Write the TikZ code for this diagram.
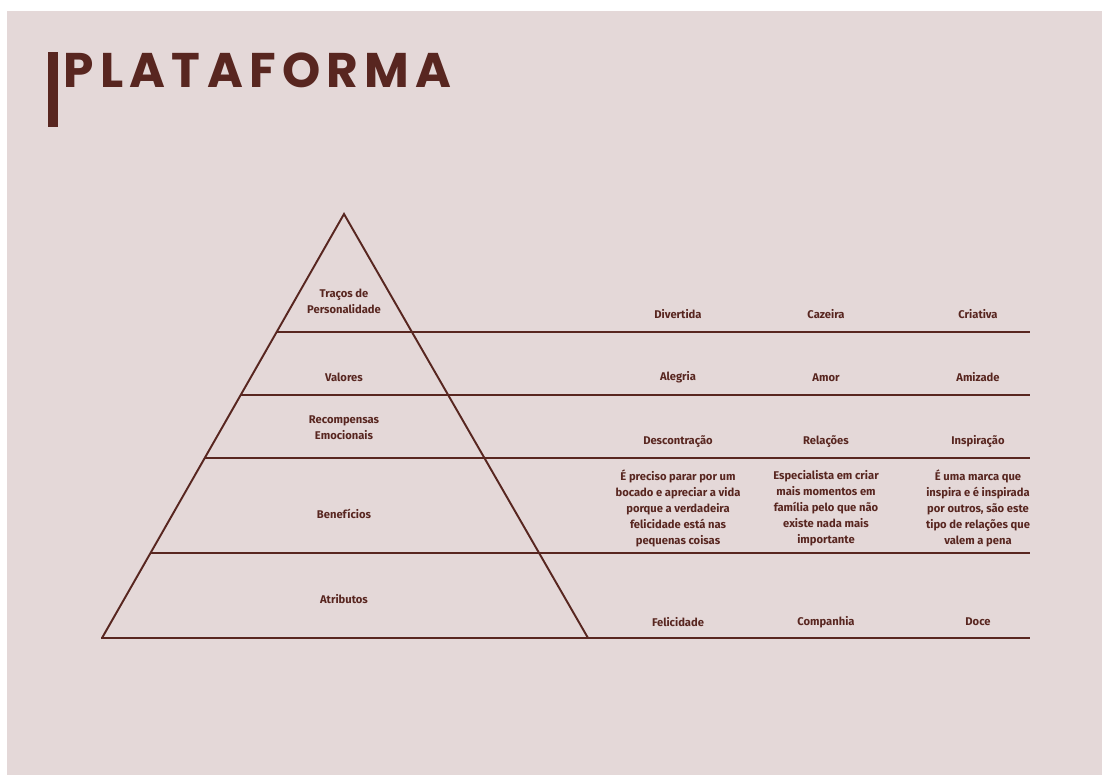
\documentclass[tikz,border=0pt]{standalone}
\usepackage{fontspec}
\setmainfont{Fira Sans}
\newfontfamily\titlefont{Poppins}[LetterSpace=13]
\definecolor{platbrown}{RGB}{88,38,32}
\definecolor{platback}{RGB}{228,216,216}
\tikzset{every picture/.style={line width=0.75pt}}
\tikzset{
  tiertext/.style={font=\bfseries\fontsize{8.4}{12}\selectfont, text=platbrown, align=center, inner sep=0.75pt},
  tierline/.style={draw=platbrown, line width=1.5pt},
  sideline/.style={draw=platbrown, line width=1.45pt}
}

\begin{document}
\begin{tikzpicture}[x=0.75pt,y=0.75pt,yscale=-1,xscale=1]
\useasboundingbox (0,0) rectangle (1102,775);

%Shape: Rectangle [page]
\fill [white] (0,0) rectangle (1102,775);
\fill [platback] (7,11) rectangle (1102,775);
%Shape: Rectangle [title bar]
\fill [platbrown] (48,52) rectangle (58,127);

% Text Node
\draw (63,87) node [anchor=base west][inner sep=0pt]  {\titlefont\bfseries\fontsize{36.5}{36}\selectfont\color{platbrown}PLATAFORMA};

%Shape: Triangle [pyramid]
\draw [sideline, line join=miter] (102,638) -- (344,214) -- (588,638) ;

%Straight Lines [tiers]
\draw [tierline] (276.65,332) -- (1030,332) ;
\draw [tierline] (240.7,395) -- (1030,395) ;
\draw [tierline] (204.7,458) -- (1030,458) ;
\draw [tierline] (150.5,553) -- (1030,553) ;
\draw [tierline] (101,638) -- (1030,638) ;

% Text Node
\draw (344,301) node [tiertext] (tracos) {Traços de\\Personalidade};
% Text Node
\draw (344,377.5) node [tiertext] (valores) {Valores};
% Text Node
\draw (344,427.5) node [tiertext] (recompensas) {Recompensas\\Emocionais};
% Text Node
\draw (344,514) node [tiertext] (beneficios) {Benefícios};
% Text Node
\draw (344,599.5) node [tiertext] (atributos) {Atributos};

% Text Node
\draw (678,314.5) node [tiertext] (divertida) {Divertida};
% Text Node
\draw (826,314.5) node [tiertext] (cazeira) {Cazeira};
% Text Node
\draw (978,314.5) node [tiertext] (criativa) {Criativa};

% Text Node
\draw (678,377.5) node [tiertext] (alegria) {Alegria};
% Text Node
\draw (826,377.5) node [tiertext] (amor) {Amor};
% Text Node
\draw (978,377.5) node [tiertext] (amizade) {Amizade};

% Text Node
\draw (678,441.5) node [tiertext] (descontracao) {Descontração};
% Text Node
\draw (826,441.5) node [tiertext] (relacoes) {Relações};
% Text Node
\draw (978,441.5) node [tiertext] (inspiracao) {Inspiração};

% Text Node
\draw (678,508) node [tiertext] (parar) {É preciso parar por um\\bocado e apreciar a vida\\porque a verdadeira\\felicidade está nas\\pequenas coisas};
% Text Node
\draw (826,508) node [tiertext] (familia) {Especialista em criar\\mais momentos em\\família pelo que não\\existe nada mais\\importante};
% Text Node
\draw (978,508) node [tiertext] (marca) {É uma marca que\\inspira e é inspirada\\por outros, são este\\tipo de relações que\\valem a pena};

% Text Node
\draw (678,622) node [tiertext] (felicidade) {Felicidade};
% Text Node
\draw (826,622) node [tiertext] (companhia) {Companhia};
% Text Node
\draw (978,622) node [tiertext] (doce) {Doce};

\end{tikzpicture}
\end{document}
